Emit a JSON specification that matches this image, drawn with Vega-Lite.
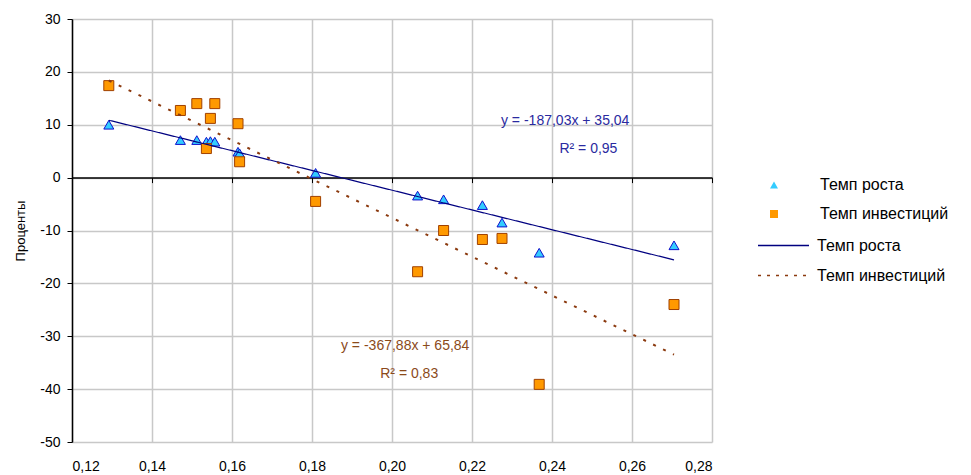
{
  "$schema": "https://vega.github.io/schema/vega-lite/v6.json",
  "autosize": {"type": "none"},
  "padding": {"left": 72, "top": 19, "right": 259, "bottom": 33},
  "width": 640,
  "height": 423,
  "config": {
    "font": "Liberation Sans",
    "view": {"stroke": null},
    "axis": {"labelFont": "Liberation Sans", "labelFontSize": 14, "labelColor": "#000000", "titleFont": "Liberation Sans", "titleFontWeight": "normal", "titleColor": "#000000", "gridColor": "#c8c8c8", "gridWidth": 1.5},
    "legend": {"labelFont": "Liberation Sans", "labelFontSize": 16, "labelColor": "#000000", "padding": 0}
  },
  "datasets": {
    "pts": [
      {"x": 0.1292, "value": 10.0, "series": "Темп роста"},
      {"x": 0.1471, "value": 7.1, "series": "Темп роста"},
      {"x": 0.1512, "value": 7.1, "series": "Темп роста"},
      {"x": 0.1536, "value": 6.8, "series": "Темп роста"},
      {"x": 0.1546, "value": 6.9, "series": "Темп роста"},
      {"x": 0.1557, "value": 6.8, "series": "Темп роста"},
      {"x": 0.1615, "value": 4.9, "series": "Темп роста"},
      {"x": 0.1619, "value": 4.6, "series": "Темп роста"},
      {"x": 0.1809, "value": 0.9, "series": "Темп роста"},
      {"x": 0.2064, "value": -3.4, "series": "Темп роста"},
      {"x": 0.2129, "value": -4.1, "series": "Темп роста"},
      {"x": 0.2226, "value": -5.2, "series": "Темп роста"},
      {"x": 0.2275, "value": -8.5, "series": "Темп роста"},
      {"x": 0.2368, "value": -14.2, "series": "Темп роста"},
      {"x": 0.2705, "value": -12.8, "series": "Темп роста"},
      {"x": 0.1292, "value": 17.4, "series": "Темп инвестиций"},
      {"x": 0.1471, "value": 12.7, "series": "Темп инвестиций"},
      {"x": 0.1512, "value": 14.0, "series": "Темп инвестиций"},
      {"x": 0.1536, "value": 5.5, "series": "Темп инвестиций"},
      {"x": 0.1546, "value": 11.2, "series": "Темп инвестиций"},
      {"x": 0.1557, "value": 14.0, "series": "Темп инвестиций"},
      {"x": 0.1615, "value": 10.2, "series": "Темп инвестиций"},
      {"x": 0.1619, "value": 3.0, "series": "Темп инвестиций"},
      {"x": 0.1809, "value": -4.5, "series": "Темп инвестиций"},
      {"x": 0.2064, "value": -17.8, "series": "Темп инвестиций"},
      {"x": 0.2129, "value": -10.0, "series": "Темп инвестиций"},
      {"x": 0.2226, "value": -11.7, "series": "Темп инвестиций"},
      {"x": 0.2275, "value": -11.5, "series": "Темп инвестиций"},
      {"x": 0.2368, "value": -39.1, "series": "Темп инвестиций"},
      {"x": 0.2705, "value": -24.0, "series": "Темп инвестиций"}
    ],
    "notes": [
      {"x": 0.2433, "value": 10.8, "label": "y = -187,03x + 35,04", "series": "Темп роста"},
      {"x": 0.2491, "value": 5.4, "label": "R² = 0,95", "series": "Темп роста"},
      {"x": 0.2033, "value": -31.8, "label": "y = -367,88x + 65,84", "series": "Темп инвестиций"},
      {"x": 0.2043, "value": -37.1, "label": "R² = 0,83", "series": "Темп инвестиций"}
    ]
  },
  "resolve": {"axis": {"x": "independent"}, "scale": {"stroke": "independent", "color": "independent"}},
  "layer": [
    {
      "data": {"name": "pts"},
      "mark": {"type": "point", "filled": true, "size": 100, "strokeWidth": 1, "opacity": 1},
      "encoding": {
        "x": {"field": "x", "type": "quantitative", "scale": {"domain": [0.12, 0.28], "nice": false, "zero": false},
          "axis": {"orient": "bottom", "values": [0.12, 0.14, 0.16, 0.18, 0.2, 0.22, 0.24, 0.26, 0.28], "grid": true, "domain": false, "ticks": false, "labelPadding": 17, "title": null, "labelExpr": "replace(format(datum.value, '.2f'), '.', ',')"}},
        "y": {"field": "value", "type": "quantitative", "scale": {"domain": [-50, 30], "nice": false, "zero": false},
          "axis": {"values": [-50, -40, -30, -20, -10, 0, 10, 20, 30], "grid": true, "domain": true, "domainColor": "#000000", "domainWidth": 1.5, "ticks": true, "tickColor": "#000000", "tickSize": 5, "labelPadding": 7, "title": "Проценты", "titleFontSize": 13, "titlePadding": 12, "labelExpr": "'' + datum.value"}},
        "shape": {"field": "series", "type": "nominal", "scale": {"domain": ["Темп роста", "Темп инвестиций"], "range": ["triangle-up", "square"]},
          "legend": {"title": null, "orient": "none", "legendX": 694, "legendY": 158, "labelOffset": 38, "rowPadding": 13, "symbolSize": 64,
            "encode": {"symbols": {"update": {"strokeWidth": {"value": 1.2}, "stroke": {"signal": "datum.value === 'Темп роста' ? '#1010cc' : '#a04000'"}}}}}},
        "fill": {"field": "series", "type": "nominal", "scale": {"domain": ["Темп роста", "Темп инвестиций"], "range": ["#33ccff", "#ff9900"]},
          "legend": {"title": null, "orient": "none", "legendX": 694, "legendY": 158, "labelOffset": 38, "rowPadding": 13, "symbolSize": 64,
            "encode": {"symbols": {"update": {"strokeWidth": {"value": 1.2}, "stroke": {"signal": "datum.value === 'Темп роста' ? '#1010cc' : '#a04000'"}}}}}},
        "stroke": {"field": "series", "type": "nominal", "scale": {"domain": ["Темп роста", "Темп инвестиций"], "range": ["#1010cc", "#a04000"]}, "legend": null}
      }
    },
    {
      "data": {"name": "pts"},
      "transform": [{"regression": "value", "on": "x", "groupby": ["series"]}],
      "mark": {"type": "line", "clip": true},
      "encoding": {
        "x": {"field": "x", "type": "quantitative",
          "axis": {"orient": "bottom", "offset": -264.4, "values": [0.12, 0.14, 0.16, 0.18, 0.2, 0.22, 0.24, 0.26, 0.28], "grid": false, "labels": false, "domain": true, "domainColor": "#000000", "domainWidth": 1.5, "ticks": true, "tickColor": "#000000", "tickSize": 5, "title": null}},
        "y": {"field": "value", "type": "quantitative"},
        "stroke": {"field": "series", "type": "nominal", "scale": {"domain": ["Темп роста", "Темп инвестиций"], "range": ["#000080", "#8b3a0f"]},
          "legend": {"title": null, "orient": "none", "legendX": 702, "legendY": 217, "labelOffset": 24, "rowPadding": 12, "symbolType": "M-3,0H3", "symbolSize": 289, "symbolStrokeWidth": 1.5,
            "encode": {"symbols": {"update": {"fill": {"value": "transparent"}, "strokeDash": {"signal": "datum.value === 'Темп роста' ? [1, 0] : [3, 6]"}}}}}},
        "strokeDash": {"field": "series", "type": "nominal", "scale": {"domain": ["Темп роста", "Темп инвестиций"], "range": [[1, 0], [3, 8]]}, "legend": null},
        "strokeWidth": {"field": "series", "type": "nominal", "scale": {"domain": ["Темп роста", "Темп инвестиций"], "range": [1.2, 2]}, "legend": null}
      }
    },
    {
      "data": {"name": "notes"},
      "mark": {"type": "text", "font": "Liberation Sans", "fontSize": 14, "align": "center", "baseline": "middle"},
      "encoding": {
        "x": {"field": "x", "type": "quantitative", "axis": null},
        "y": {"field": "value", "type": "quantitative"},
        "text": {"field": "label"},
        "color": {"field": "series", "type": "nominal", "scale": {"domain": ["Темп роста", "Темп инвестиций"], "range": ["#2a2aa0", "#8b4a1a"]}, "legend": null}
      }
    }
  ]
}
